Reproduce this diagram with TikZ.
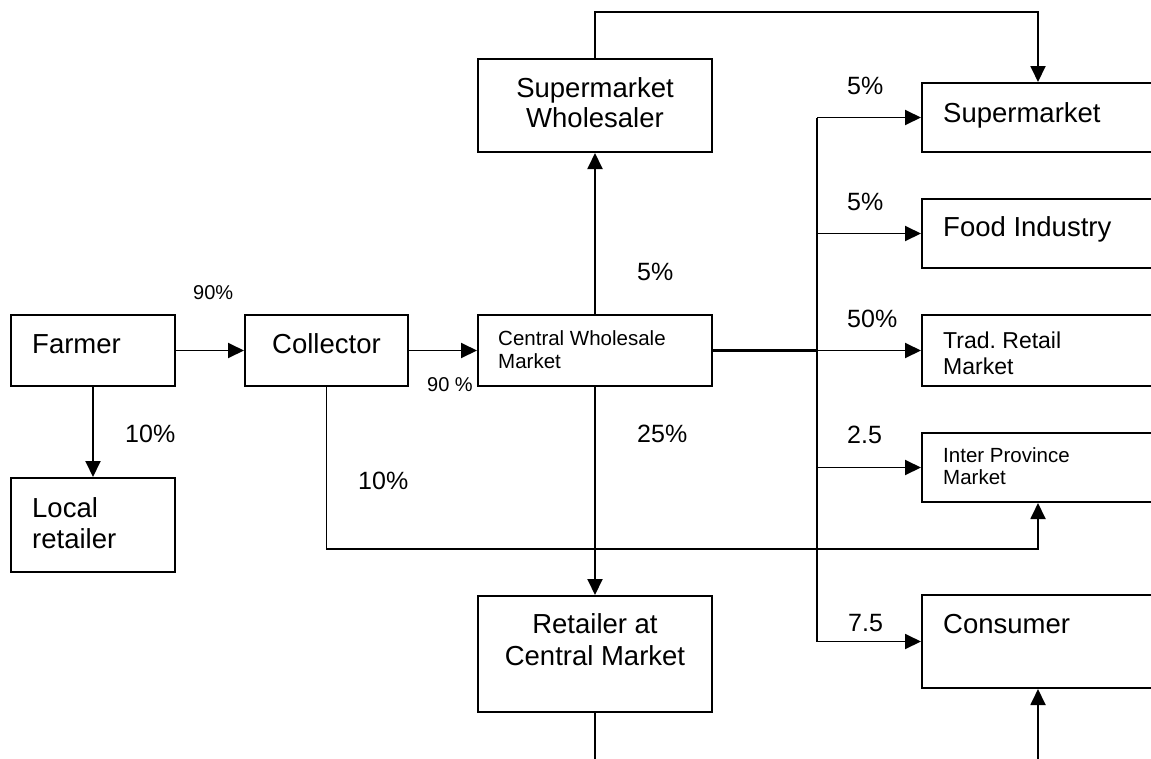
\documentclass[tikz,border=0pt]{standalone}
\usepackage{fontspec}
\setmainfont{Liberation Sans}
\usetikzlibrary{arrows.meta}
\begin{document}
\begin{tikzpicture}[x=1pt,y=-1pt,
  box/.style={draw, line width=2pt, inner sep=0pt, rectangle},
  big/.style={font=\fontsize{27.5}{31}\selectfont, inner sep=0pt},
  small/.style={font=\fontsize{20.5}{23}\selectfont, inner sep=0pt},
  mid/.style={font=\fontsize{23}{26}\selectfont, inner sep=0pt},
  lbl/.style={font=\fontsize{25}{28}\selectfont, inner sep=0pt, anchor=base west},
  slbl/.style={font=\fontsize{20}{23}\selectfont, inner sep=0pt, anchor=base west},
  conn/.style={line width=1.9pt},
  arr/.style={conn, -{Triangle[length=16pt,width=15pt]}},
  heavy/.style={line width=3.3pt}
]
\useasboundingbox (0,0) rectangle (1151,758);
\clip (0,0) rectangle (1151,758);

% boxes
\node[box, minimum width=164pt, minimum height=71pt] (farmer) at (93,350.5) {};
\node[box, minimum width=164pt, minimum height=94pt] (local) at (93,525) {};
\node[box, minimum width=163pt, minimum height=71pt] (collector) at (326.5,350.5) {};
\node[box, minimum width=234pt, minimum height=71pt] (central) at (595,350.5) {};
\node[box, minimum width=234pt, minimum height=93pt] (wholesaler) at (595,105.5) {};
\node[box, minimum width=234pt, minimum height=116pt] (retailer) at (595,654) {};
\node[box, minimum width=232pt, minimum height=69pt] (supermarket) at (1038,117.5) {};
\node[box, minimum width=232pt, minimum height=69pt] (food) at (1038,233.5) {};
\node[box, minimum width=232pt, minimum height=71pt] (trad) at (1038,350.5) {};
\node[box, minimum width=232pt, minimum height=69pt] (inter) at (1038,467.5) {};
\node[box, minimum width=232pt, minimum height=93pt] (consumer) at (1038,641.5) {};

% box texts
\node[big, anchor=base west] (tfarmer) at (32,353) {Farmer};
\node[big, anchor=base west] (tlocal1) at (32,517) {Local};
\node[big, anchor=base west] (tlocal2) at (32,548) {retailer};
\node[big, anchor=base] (tcollector) at (326.5,353) {Collector};
\node[small, anchor=base west] (tcentral1) at (498,345.3) {Central Wholesale};
\node[small, anchor=base west] (tcentral2) at (498,368.3) {Market};
\node[big, anchor=base] (twhole1) at (595,97) {Supermarket};
\node[big, anchor=base] (twhole2) at (595,127) {Wholesaler};
\node[big, anchor=base] (tret1) at (595,633) {Retailer at};
\node[big, anchor=base] (tret2) at (595,665) {Central Market};
\node[big, anchor=base west] (tsuper) at (943,122) {Supermarket};
\node[big, anchor=base west] (tfood) at (943,236) {Food Industry};
\node[mid, anchor=base west] (ttrad1) at (943,348) {Trad.\ Retail};
\node[mid, anchor=base west] (ttrad2) at (943,374) {Market};
\node[small, anchor=base west] (tinter1) at (943,462) {Inter Province};
\node[small, anchor=base west] (tinter2) at (943,484) {Market};
\node[big, anchor=base west] (tcons) at (943,633) {Consumer};

% labels
\node[slbl] (l90a) at (193,299) {90\%};
\node[slbl] (l90b) at (427,391) {90 \%};
\node[lbl] (l10a) at (125,442) {10\%};
\node[lbl] (l10b) at (358,489) {10\%};
\node[lbl] (l5up) at (637,280) {5\%};
\node[lbl] (l25) at (637,442) {25\%};
\node[lbl] (l5s) at (847,94) {5\%};
\node[lbl] (l5f) at (847,210) {5\%};
\node[lbl] (l50) at (847,327) {50\%};
\node[lbl] (l25b) at (847,443) {2.5};
\node[lbl] (l75) at (848,631) {7.5};

% helper coordinates
\coordinate (top) at (0,12);
\coordinate (loop) at (0,549);
\coordinate (bus) at (817,0);
\coordinate (retout) at (595,762);
\coordinate (consin) at (1038,762);

% connectors
\draw[arr] (farmer) -- (collector);
\draw[arr] (collector) -- (central);
\draw[arr] (farmer.south) -- (local.north);
\draw[arr] (central.north) -- (wholesaler.south);
\draw[arr] (central.south) -- (retailer.north);
\draw[conn] (retailer.south) -- (retout);
\draw[arr] (consin) -- (consumer.south);
\draw[arr] (wholesaler.north) -- (wholesaler.north |- top) -| (supermarket.north);
\draw[arr] (collector.south) -- (collector.south |- loop) -| (inter.south);
\draw[heavy] (central.east) -- (bus |- central.east);
\draw[conn] (bus |- supermarket.west) -- (bus |- consumer.west);
\draw[arr] (bus |- supermarket.west) -- (supermarket.west);
\draw[arr] (bus |- food.west) -- (food.west);
\draw[arr] (bus |- trad.west) -- (trad.west);
\draw[arr] (bus |- inter.west) -- (inter.west);
\draw[arr] (bus |- consumer.west) -- (consumer.west);
\end{tikzpicture}
\end{document}
